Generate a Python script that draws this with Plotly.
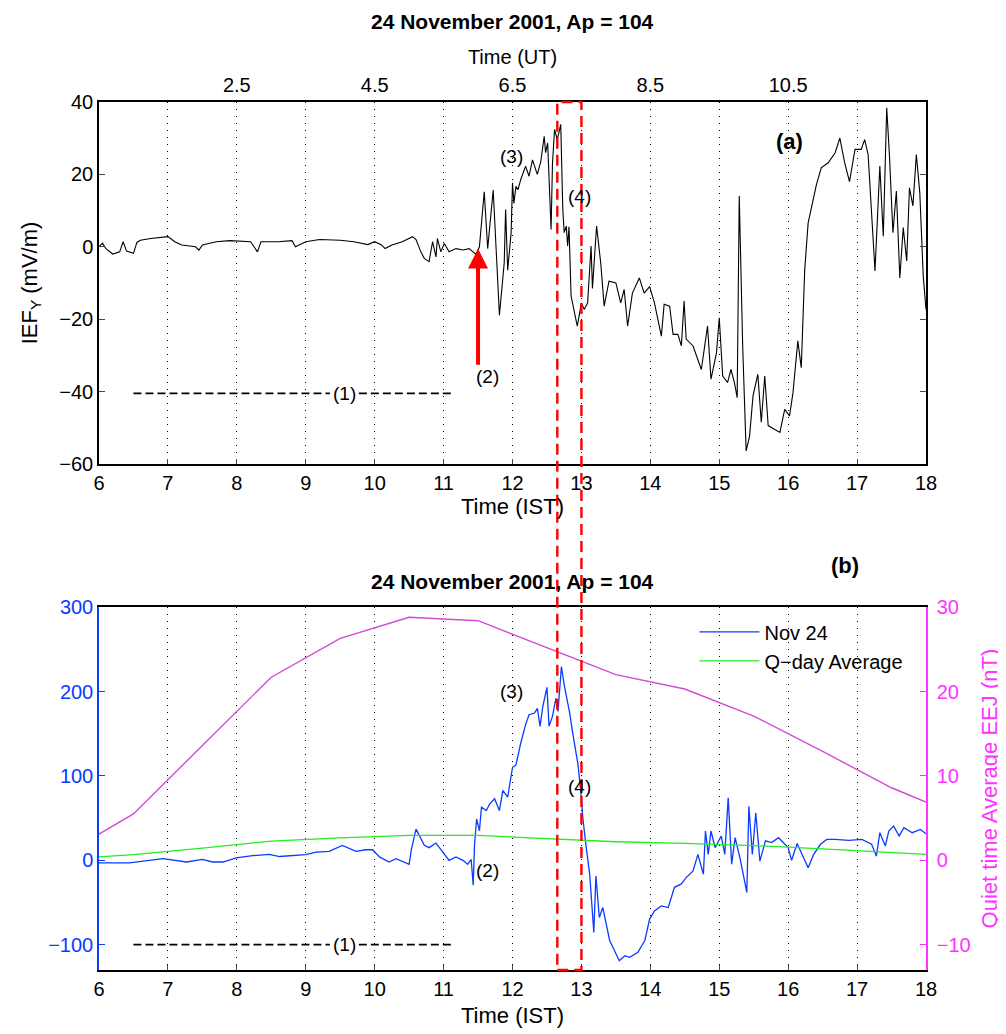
import plotly.graph_objects as go

# ---- panel (a): IEFy (mV/m) vs IST ----
ief_t = [6.0, 6.05, 6.1, 6.2, 6.3, 6.35, 6.4, 6.5, 6.55, 6.6, 6.75, 6.9, 7.0, 7.1, 7.2,
         7.4, 7.45, 7.5, 7.7, 7.9, 8.2, 8.3, 8.35, 8.6, 8.8, 8.85, 9.0, 9.2, 9.5, 9.7,
         9.9, 10.0, 10.1, 10.15, 10.25, 10.4, 10.55, 10.6, 10.67, 10.72, 10.79, 10.84,
         10.89, 10.91, 10.96, 11.01, 11.08, 11.18, 11.28, 11.37, 11.47, 11.52, 11.54,
         11.59, 11.64, 11.69, 11.72, 11.81, 11.88, 11.9, 11.93, 11.98, 12.0, 12.02,
         12.05, 12.08, 12.12, 12.19, 12.24, 12.29, 12.31, 12.36, 12.41, 12.46, 12.48,
         12.51, 12.56, 12.58, 12.61, 12.65, 12.7, 12.73, 12.75, 12.78, 12.8, 12.82,
         12.85, 12.9, 12.94, 13.0, 13.04, 13.09, 13.14, 13.16, 13.22, 13.28, 13.33,
         13.4, 13.5, 13.57, 13.62, 13.67, 13.74, 13.84, 13.91, 13.99, 14.06, 14.16,
         14.2, 14.28, 14.33, 14.4, 14.45, 14.49, 14.52, 14.62, 14.74, 14.83, 14.88,
         14.96, 15.0, 15.05, 15.12, 15.17, 15.22, 15.26, 15.29, 15.34, 15.39, 15.44,
         15.49, 15.56, 15.61, 15.66, 15.71, 15.8, 15.88, 15.95, 16.02, 16.07, 16.14,
         16.19, 16.24, 16.29, 16.36, 16.41, 16.48, 16.58, 16.68, 16.75, 16.82, 16.89,
         16.97, 17.06, 17.11, 17.16, 17.26, 17.33, 17.38, 17.43, 17.47, 17.52, 17.57,
         17.62, 17.67, 17.72, 17.76, 17.81, 17.86, 17.91, 17.96, 18.0]
ief_v = [0.0, 1.0, -0.5, -2.0, -1.4, 1.4, -1.2, -1.8, 1.2, 1.8, 2.3, 2.5, 2.8, 1.4, 0.5,
         0.0, -0.9, 0.5, 1.4, 1.7, 1.4, -1.4, 1.4, 1.4, 1.7, 0.0, 1.4, 2.0, 1.8, 1.4,
         0.6, 1.4, 0.5, -0.5, 0.5, 1.4, 2.8, 2.0, -1.4, -3.2, -4.1, 1.4,
         -2.8, 2.3, -1.4, 0.9, -1.4, -0.5, -0.9, -0.5, -2.1, 0.0, 5.0,
         15.2, -0.5, 10.6, 15.7, -18.9, -4.4, 10.3, -6.5, 3.9, 17.7, 12.0,
         16.7, 15.8, 18.6, 22.3, 19.5, 24.0, 23.0, 20.0, 23.5, 30.5, 26.0,
         28.7, 4.8, 23.0, 32.4, 29.6, 33.8, 10.3, 3.9, 5.7, 0.2, 5.5,
         -13.6, -18.2, -21.9, -15.5, -17.3, -15.5, 0.2, -11.5, 5.7, -4.4, -16.4,
         -9.5, -10.0, -15.5, -11.8, -21.9, -12.8, -8.6, -12.8, -11.0, -15.5, -24.7,
         -15.9, -16.4, -24.2, -24.2, -27.4, -15.0, -25.5, -27.4, -33.9, -21.9, -36.6,
         -29.3, -19.6, -35.7, -37.5, -33.9, -37.5, -41.7, 14.0, -27.4, -56.4, -52.3,
         -41.2, -35.2, -48.5, -35.7, -49.4, -50.4, -51.3, -44.9, -46.7, -40.3, -26.0,
         -33.4, -6.3, 6.6, 13.0, 17.2, 21.8, 23.2, 25.9, 30.0, 23.2, 18.0,
         26.9, 26.9, 29.6, 25.5, -6.7, 22.3, 2.9, 38.4, 25.1, 3.9, 15.4,
         -8.6, 5.3, -3.9, 16.3, 11.3, 25.5, 14.9, -8.1, -17.3]

# ---- panel (b): EEJ (nT) ----
eej_t = [6.0, 6.44, 6.93, 7.27, 7.5, 7.65, 7.8, 7.99, 8.23, 8.47, 8.62, 8.86, 9.0, 9.15,
         9.34, 9.53, 9.73, 9.87, 9.97, 10.07, 10.21, 10.31, 10.5, 10.53, 10.6, 10.72,
         10.79, 10.89, 10.99, 11.08, 11.18, 11.28, 11.35, 11.4, 11.43, 11.45, 11.48,
         11.52, 11.55, 11.62, 11.67, 11.74, 11.81, 11.86, 11.93, 12.0, 12.05, 12.12,
         12.19, 12.24, 12.32, 12.36, 12.4, 12.44, 12.5, 12.53, 12.58, 12.63, 12.66,
         12.71, 12.75, 12.83, 12.87, 12.95, 13.0, 13.02, 13.07, 13.12, 13.18, 13.21,
         13.26, 13.31, 13.41, 13.48, 13.55, 13.63, 13.7, 13.82, 13.92, 13.99, 14.06,
         14.16, 14.26, 14.35, 14.45, 14.52, 14.62, 14.69, 14.77, 14.8, 14.84, 14.88,
         14.94, 15.03, 15.08, 15.13, 15.18, 15.23, 15.3, 15.4, 15.43, 15.48, 15.53,
         15.59, 15.67, 15.76, 15.86, 16.0, 16.05, 16.13, 16.2, 16.29, 16.37, 16.47,
         16.56, 16.68, 16.88, 17.07, 17.21, 17.28, 17.33, 17.41, 17.46, 17.53, 17.61,
         17.68, 17.8, 17.92, 18.0]
eej_v = [-3, -3, 2, -2, 1, -2, -2, 3, 5.5, 7, 4.5, 5.5, 6.7, 9.8,
         10.5, 17.7, 10.5, 12.5, 12.5, 4, -2, 2, -4.7, 11.8, 37, 17.7,
         15, 20.5, 10, 0, 4, 0, -4.7, 1, -29.5, 20, 49,
         35, 63, 59, 67, 73, 59, 83, 75, 110, 113, 139,
         160.8, 172.6, 174.5, 180, 158.8, 182.4, 205, 158.8, 170.6, 192, 176.5,
         229.7, 208, 174.5, 152.9, 113.5, 74, 50.4, 15, -16.5, -85.5, -18.5,
         -67.8, -56, -95, -107, -119, -113, -115, -109, -95, -69.7, -60,
         -54, -56, -32, -28, -20.5, -12.6, 7, -16.5, 34.7, 7, 34.7,
         15, 28.8, 7, 74, -4.7, 26.8, 3, -38, 64, 7, 56,
         -1, 23, 21, 26.8, 15, 0, 20, 7, -8.7, 7, 19,
         24.8, 24.8, 23.6, 24.8, 19, 5, 32.7, 17, 34.7, 40.6, 29,
         38.6, 32.7, 36.6, 31.5]

qday_t = [6.0, 6.5, 7.5, 8.5, 9.5, 10.5, 11.5, 12.5, 13.5, 14.5, 15.5, 16.5, 17.5, 18.0]
qday_v = [4.0, 6.7, 14.5, 22.8, 26.5, 29.5, 29.5, 26.0, 22.0, 20.0, 17.5, 13.5, 9.5, 7.0]

quiet_t = [6.0, 6.5, 7.5, 8.5, 9.5, 10.5, 11.5, 12.5, 13.5, 14.5, 15.5, 16.5, 17.5, 18.0]
quiet_v = [3.1, 5.5, 13.6, 21.7, 26.3, 28.8, 28.4, 25.2, 22.0, 20.3, 17.1, 12.9, 8.6, 6.9]

ist_ticks = list(range(6, 19))
ut_ticks = [2.5, 4.5, 6.5, 8.5, 10.5]
title_txt = "24 November 2001, Ap = 104"

FONT = "Liberation Sans, Arial, sans-serif"
BLUE = "#0a3cff"
GREEN = "#22ee22"
MAGENTA = "#d24bd2"
PINK = "#ff33ff"
DOTS = "1px,6px"

fig = go.Figure()

fig.add_trace(go.Scatter(x=ief_t, y=ief_v, mode="lines", xaxis="x", yaxis="y",
                         line=dict(color="black", width=1.1), showlegend=False,
                         hoverinfo="skip"))
# invisible trace so the UT axis on top of panel (a) is drawn
fig.add_trace(go.Scatter(x=[ut_ticks[0]], y=[0], mode="markers", xaxis="x3", yaxis="y",
                         marker=dict(opacity=0), showlegend=False, hoverinfo="skip"))
fig.add_trace(go.Scatter(x=eej_t, y=eej_v, mode="lines", xaxis="x2", yaxis="y2",
                         name="Nov 24", line=dict(color=BLUE, width=1.3)))
fig.add_trace(go.Scatter(x=qday_t, y=qday_v, mode="lines", xaxis="x2", yaxis="y2",
                         name="Q\u2212day Average", line=dict(color=GREEN, width=1.3)))
fig.add_trace(go.Scatter(x=quiet_t, y=quiet_v, mode="lines", xaxis="x2", yaxis="y4",
                         line=dict(color=MAGENTA, width=1.4), showlegend=False))

xcommon = dict(range=[6, 18], tickvals=ist_ticks, ticks="inside", ticklen=5,
               showgrid=True, gridcolor="black", griddash=DOTS, gridwidth=1,
               showline=True, linecolor="black", linewidth=1.5, zeroline=False,
               tickfont=dict(size=20, color="black"))

fig.update_layout(
    width=1006, height=1034,
    margin=dict(l=91, r=88, t=94, b=72),
    paper_bgcolor="white", plot_bgcolor="white",
    font=dict(family=FONT, color="black"),
    xaxis=dict(xcommon, anchor="y", mirror=True,
               title=dict(text="Time (IST)", font=dict(size=22, color="black"), standoff=2)),
    yaxis=dict(domain=[0.583, 1.0], range=[-60, 40], tickvals=[-60, -40, -20, 0, 20, 40],
               ticks="inside", ticklen=6, showline=True, linecolor="black", linewidth=1.5,
               mirror="ticks", showgrid=False, zeroline=False,
               tickfont=dict(size=20, color="black"),
               title=dict(text="IEF<sub>Y</sub> (mV/m)", font=dict(size=22, color="black"),
                          standoff=16)),
    xaxis3=dict(overlaying="x", anchor="y", side="top", range=[0.5, 12.5],
                tickvals=ut_ticks, ticktext=[str(v) for v in ut_ticks], ticks="",
                ticklabelstandoff=5,
                showgrid=False, showline=False, zeroline=False,
                tickfont=dict(size=20, color="black"),
                title=dict(text="Time (UT)", font=dict(size=20, color="black"), standoff=4)),
    xaxis2=dict(xcommon, anchor="y2", mirror=True,
                title=dict(text="Time (IST)", font=dict(size=22, color="black"), standoff=9)),
    yaxis2=dict(domain=[0.0, 0.418], range=[-130, 300], tickvals=[-100, 0, 100, 200, 300],
                ticks="inside", ticklen=6, showline=True, linecolor=BLUE, linewidth=1.5,
                showgrid=False, zeroline=False, tickcolor=BLUE,
                tickfont=dict(size=20, color=BLUE)),
    yaxis4=dict(overlaying="y2", side="right", anchor="x2", range=[-13, 30],
                tickvals=[-10, 0, 10, 20, 30], ticks="inside", ticklen=6, tickcolor=PINK,
                ticklabelstandoff=5,
                showline=True, linecolor=PINK, linewidth=1.5, showgrid=False, zeroline=False,
                tickfont=dict(size=20, color=PINK),
                title=dict(text="Quiet time Average EEJ (nT)", font=dict(size=22, color=PINK),
                           standoff=12)),
    legend=dict(x=0.72, y=0.412, xanchor="left", yanchor="top", bgcolor="rgba(0,0,0,0)",
                font=dict(size=20, color="black"), borderwidth=0, tracegroupgap=0,
                itemwidth=60),
)

# titles and panel letters
fig.add_annotation(text="<b>" + title_txt + "</b>", xref="paper", yref="paper", x=0.5, y=1.093,
                   yanchor="middle", showarrow=False, font=dict(size=21))
fig.add_annotation(text="<b>" + title_txt + "</b>", xref="paper", yref="paper", x=0.5, y=0.448,
                   yanchor="middle", showarrow=False, font=dict(size=21))
fig.add_annotation(text="<b>(a)</b>", xref="x", yref="y", x=16.02, y=29.2, showarrow=False,
                   font=dict(size=22))
fig.add_annotation(text="<b>(b)</b>", xref="paper", yref="paper", x=0.921, y=0.466,
                   yanchor="middle", showarrow=False, font=dict(size=22))

# event labels, panel (a)
for txt, xx, yy in [("(3)", 11.98, 25), ("(4)", 12.97, 13.8), ("(2)", 11.63, -35.7),
                    ("(1)", 9.56, -40.6)]:
    fig.add_annotation(text=txt, xref="x", yref="y", x=xx, y=yy, showarrow=False,
                       font=dict(size=19))
# event labels, panel (b)
for txt, xx, yy in [("(3)", 11.98, 200), ("(4)", 12.97, 87), ("(2)", 11.63, -12),
                    ("(1)", 9.56, -100)]:
    fig.add_annotation(text=txt, xref="x2", yref="y2", x=xx, y=yy, showarrow=False,
                       font=dict(size=19))

# dashed interval (1) in both panels
for xr, yr, yv in [("x", "y", -40.5), ("x2", "y2", -100)]:
    for x0, x1 in [(6.5, 9.35), (9.77, 11.15)]:
        fig.add_shape(type="line", xref=xr, yref=yr, x0=x0, x1=x1, y0=yv, y1=yv,
                      line=dict(color="black", width=1.8, dash="8px,4px"))

# red arrow (2)
fig.add_annotation(x=11.5, y=-0.5, ax=11.5, ay=-33, xref="x", yref="y", axref="x", ayref="y",
                   showarrow=True, arrowhead=2, arrowsize=1, arrowwidth=4, arrowcolor="red",
                   text="")

# red dashed window spanning both panels
fig.add_shape(type="rect", xref="x", yref="paper", x0=12.65, x1=13.0, y0=0, y1=1,
              line=dict(color="red", width=2.4, dash="11px,6px"), fillcolor="rgba(0,0,0,0)")

fig.write_html("out.html")
